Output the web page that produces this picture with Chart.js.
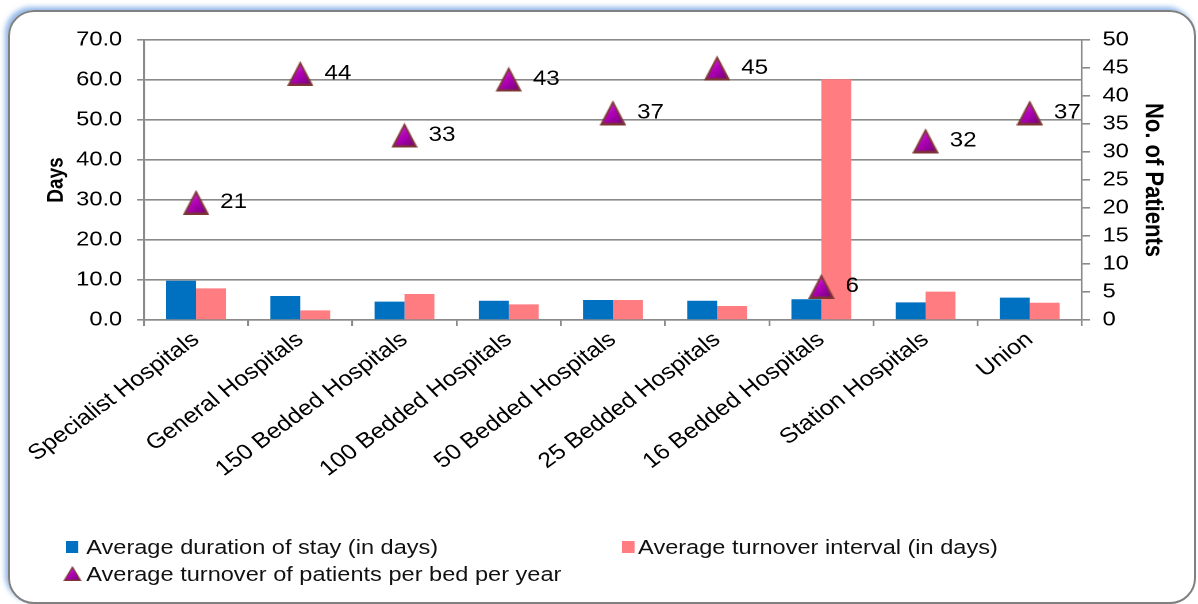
<!DOCTYPE html>
<html lang="en">
<head>
    <meta charset="UTF-8">
    <title>Hospital stay and turnover</title>
    <script src="https://cdn.jsdelivr.net/npm/chart.js"></script>
    <style>
        * { margin: 0; padding: 0; box-sizing: border-box; }

        body {
            width: 1198px;
            height: 604px;
            background: #fff;
            overflow: hidden;
            font-family: 'Liberation Sans', Arial, sans-serif;
        }

        .frame {
            position: absolute;
            left: 8px;
            top: 10px;
            width: 1188px;
            height: 594px;
            border: 2px solid #808080;
            border-radius: 26px;
            box-shadow: -3px -3px 5px rgba(110, 160, 225, 0.75);
        }

        /* the original picture is stretched sideways, so draw narrow and widen */
        .stretch {
            position: absolute;
            left: 0;
            top: 0;
            width: 1042px;
            height: 604px;
            transform: scaleX(1.1497);
            transform-origin: 0 0;
        }

        #chart { position: absolute; left: 0; top: 0; }

        .legend-item {
            position: absolute;
            font-size: 20.5px;
            color: #111;
            white-space: nowrap;
            line-height: 24px;
            height: 24px;
        }

        .swatch {
            position: absolute;
            width: 11px;
            height: 12px;
            top: 6px;
        }
    </style>
</head>
<body>
    <div class="frame"></div>
    <div class="stretch">
        <canvas id="chart" width="1042" height="604"></canvas>

        <div class="legend-item" style="left: 57px; top: 535px;">
            <span class="swatch" style="left: 0; background: #0070C0;"></span>
            <span style="margin-left: 18px;">Average duration of stay (in days)</span>
        </div>
        <div class="legend-item" style="left: 541px; top: 535px;">
            <span class="swatch" style="left: 0; background: #FF7C80;"></span>
            <span style="margin-left: 14px;">Average turnover interval (in days)</span>
        </div>
        <div class="legend-item" style="left: 55px; top: 562px;">
            <canvas id="legendTri" width="17" height="16" style="position:absolute; left:0; top:4px;"></canvas>
            <span style="margin-left: 20px;">Average turnover of patients per bed per year</span>
        </div>
    </div>

    <script>
        const categories = [
            'Specialist Hospitals', 'General Hospitals', '150 Bedded Hospitals',
            '100 Bedded Hospitals', '50 Bedded Hospitals', '25 Bedded Hospitals',
            '16 Bedded Hospitals', 'Station Hospitals', 'Union'
        ];
        const stayDays = [9.8, 6.0, 4.6, 4.8, 5.0, 4.8, 5.2, 4.4, 5.6];
        const intervalDays = [7.9, 2.4, 6.5, 3.9, 5.0, 3.5, 60.2, 7.1, 4.3];
        const turnover = [21, 44, 33, 43, 37, 45, 6, 32, 37];

        // triangle marker with a bit of a bevel, like the office chart
        function drawTriangle(ctx, w, h) {
            ctx.beginPath();
            ctx.moveTo(w / 2, 0);
            ctx.lineTo(w, h);
            ctx.lineTo(0, h);
            ctx.closePath();
            ctx.fillStyle = '#7d3434';
            ctx.fill();

            const g = ctx.createLinearGradient(0, 0, w, h);
            g.addColorStop(0, '#f050f0');
            g.addColorStop(0.5, '#b000b8');
            g.addColorStop(1, '#6a006e');
            ctx.beginPath();
            ctx.moveTo(w / 2, h * 0.16);
            ctx.lineTo(w - w * 0.14, h - h * 0.1);
            ctx.lineTo(w * 0.14, h - h * 0.1);
            ctx.closePath();
            ctx.fillStyle = g;
            ctx.fill();
        }

        const marker = document.createElement('canvas');
        marker.width = 23;
        marker.height = 25;
        drawTriangle(marker.getContext('2d'), 23, 25);

        drawTriangle(document.getElementById('legendTri').getContext('2d'), 16, 15);

        // value labels to the right of the triangles
        const pointLabels = {
            id: 'pointLabels',
            afterDatasetsDraw(chart) {
                const ctx = chart.ctx;
                const meta = chart.getDatasetMeta(0);
                ctx.save();
                ctx.font = '21px "Liberation Sans", Arial, sans-serif';
                ctx.fillStyle = '#000';
                ctx.textAlign = 'left';
                ctx.textBaseline = 'middle';
                meta.data.forEach((pt, i) => {
                    ctx.fillText(turnover[i], pt.x + 21, pt.y);
                });
                ctx.restore();
            }
        };

        const tickFont = { family: 'Liberation Sans', size: 20.5 };

        new Chart(document.getElementById('chart'), {
            data: {
                labels: categories,
                datasets: [
                    {
                        type: 'line',
                        label: 'Average turnover of patients per bed per year',
                        data: turnover,
                        yAxisID: 'y1',
                        showLine: false,
                        pointStyle: marker,
                        order: 0
                    },
                    {
                        type: 'bar',
                        label: 'Average duration of stay (in days)',
                        data: stayDays,
                        backgroundColor: '#0070C0',
                        yAxisID: 'y',
                        order: 1
                    },
                    {
                        type: 'bar',
                        label: 'Average turnover interval (in days)',
                        data: intervalDays,
                        backgroundColor: '#FF7C80',
                        yAxisID: 'y',
                        order: 1
                    }
                ]
            },
            options: {
                responsive: false,
                devicePixelRatio: 2,
                animation: false,
                categoryPercentage: 0.574,
                barPercentage: 1,
                layout: { padding: { left: 34, top: 40, right: 22, bottom: 0 } },
                plugins: {
                    legend: { display: false },
                    tooltip: { enabled: false }
                },
                scales: {
                    x: {
                        grid: {
                            offset: true,
                            drawOnChartArea: false,
                            color: '#8a8a8a',
                            lineWidth: 1.6,
                            tickLength: 6
                        },
                        border: { color: '#8a8a8a', width: 1.6 },
                        ticks: {
                            autoSkip: false,
                            minRotation: 40,
                            maxRotation: 40,
                            color: '#000',
                            font: { family: 'Liberation Sans', size: 21.5 },
                            padding: 1
                        },
                        afterFit(scale) { scale.height = 284; }
                    },
                    y: {
                        position: 'left',
                        min: 0,
                        max: 70,
                        ticks: {
                            stepSize: 10,
                            color: '#000',
                            font: tickFont,
                            padding: 13,
                            callback: v => v.toFixed(1)
                        },
                        grid: { color: '#8a8a8a', lineWidth: 1.6, tickLength: 6 },
                        border: { color: '#8a8a8a', width: 1.6 },
                        title: {
                            display: true,
                            text: 'Days',
                            color: '#000',
                            font: { family: 'Liberation Sans', size: 19, weight: 'bold' }
                        },
                        afterFit(scale) { scale.width = 91.2; }
                    },
                    y1: {
                        position: 'right',
                        min: 0,
                        max: 50,
                        ticks: {
                            stepSize: 5,
                            color: '#000',
                            font: tickFont,
                            padding: 11
                        },
                        grid: {
                            drawOnChartArea: false,
                            color: '#8a8a8a',
                            lineWidth: 1.6,
                            tickLength: 7
                        },
                        border: { color: '#8a8a8a', width: 1.6 },
                        title: {
                            display: true,
                            text: 'No. of Patients',
                            color: '#000',
                            font: { family: 'Liberation Sans', size: 22, weight: 'bold' }
                        },
                        afterFit(scale) { scale.width = 79; }
                    }
                }
            },
            plugins: [pointLabels]
        });
    </script>
</body>
</html>
